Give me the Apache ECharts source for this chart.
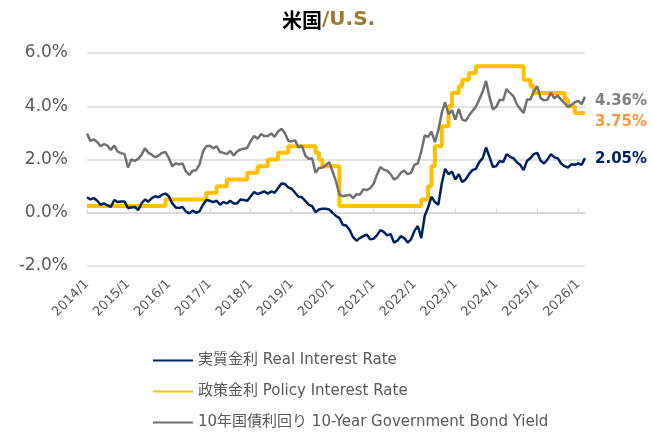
<!DOCTYPE html>
<html>
<head>
<meta charset="utf-8">
<script src="https://cdn.jsdelivr.net/npm/echarts@6/dist/echarts.min.js"></script>
<style>
  html, body { margin: 0; padding: 0; background: #fff; }
  #main { width: 652px; height: 440px; }
</style>
</head>
<body>
<div id="main"></div>
<script>
// 月次カテゴリ 2014/1 〜 2026/3
var startYear = 2014;
var monthCount = 147;
var months = [];
for (var i = 0; i < monthCount; i++) {
    months.push((startYear + Math.floor(i / 12)) + '/' + (i % 12 + 1));
}

var yTicks = [-2, 0, 2, 4, 6];

// 実質金利 (%)
var realRate = [
    0.58, 0.50, 0.55, 0.45, 0.30, 0.35, 0.28, 0.22, 0.48, 0.40, 0.42, 0.42, // 2014
    0.18, 0.20, 0.22, 0.10, 0.35, 0.50, 0.42, 0.55, 0.62, 0.58, 0.68, 0.72, // 2015
    0.62, 0.35, 0.20, 0.18, 0.22, 0.05, -0.02, 0.08, 0.00, 0.05, 0.30, 0.48, // 2016
    0.45, 0.40, 0.45, 0.30, 0.40, 0.35, 0.45, 0.35, 0.35, 0.50, 0.48, 0.45, // 2017
    0.62, 0.78, 0.70, 0.75, 0.80, 0.72, 0.80, 0.75, 0.92, 1.10, 1.08, 0.95, // 2018
    0.90, 0.75, 0.60, 0.58, 0.45, 0.30, 0.25, 0.02, 0.12, 0.15, 0.15, 0.12, // 2019
    0.00, -0.12, -0.20, -0.45, -0.48, -0.65, -0.92, -1.05, -0.95, -0.88, -0.82, -1.00, // 2020
    -0.98, -0.85, -0.65, -0.72, -0.85, -0.80, -1.12, -1.05, -0.88, -0.95, -1.12, -1.00, // 2021
    -0.68, -0.50, -0.95, -0.12, 0.20, 0.60, 0.40, 0.30, 1.10, 1.65, 1.45, 1.55, // 2022
    1.25, 1.45, 1.15, 1.25, 1.45, 1.60, 1.65, 1.90, 2.05, 2.45, 2.10, 1.72, // 2023
    1.75, 1.95, 1.90, 2.20, 2.10, 2.05, 1.90, 1.80, 1.60, 1.95, 2.05, 2.20, // 2024
    2.25, 1.95, 1.85, 2.00, 2.20, 2.08, 2.05, 1.85, 1.75, 1.70, 1.82, 1.80, // 2025
    1.85, 1.80, 2.05                                                        // 2026
];

// 政策金利 (%)
var policyRate = [
    0.25, 0.25, 0.25, 0.25, 0.25, 0.25, 0.25, 0.25, 0.25, 0.25, 0.25, 0.25, // 2014
    0.25, 0.25, 0.25, 0.25, 0.25, 0.25, 0.25, 0.25, 0.25, 0.25, 0.25, 0.50, // 2015
    0.50, 0.50, 0.50, 0.50, 0.50, 0.50, 0.50, 0.50, 0.50, 0.50, 0.50, 0.75, // 2016
    0.75, 0.75, 1.00, 1.00, 1.00, 1.25, 1.25, 1.25, 1.25, 1.25, 1.25, 1.50, // 2017
    1.50, 1.50, 1.75, 1.75, 1.75, 2.00, 2.00, 2.00, 2.25, 2.25, 2.25, 2.50, // 2018
    2.50, 2.50, 2.50, 2.50, 2.50, 2.50, 2.50, 2.25, 2.00, 1.75, 1.75, 1.75, // 2019
    1.75, 1.75, 0.25, 0.25, 0.25, 0.25, 0.25, 0.25, 0.25, 0.25, 0.25, 0.25, // 2020
    0.25, 0.25, 0.25, 0.25, 0.25, 0.25, 0.25, 0.25, 0.25, 0.25, 0.25, 0.25, // 2021
    0.25, 0.25, 0.50, 0.50, 1.00, 1.75, 2.50, 2.50, 3.25, 3.25, 4.00, 4.50, // 2022
    4.50, 4.75, 5.00, 5.00, 5.25, 5.25, 5.50, 5.50, 5.50, 5.50, 5.50, 5.50, // 2023
    5.50, 5.50, 5.50, 5.50, 5.50, 5.50, 5.50, 5.50, 5.00, 5.00, 4.75, 4.50, // 2024
    4.50, 4.50, 4.50, 4.50, 4.50, 4.50, 4.50, 4.50, 4.25, 4.00, 4.00, 3.75, // 2025
    3.75, 3.75, 3.75                                                        // 2026
];

// 10年国債利回り (%)
var bondYield = [
    2.98, 2.70, 2.75, 2.66, 2.50, 2.58, 2.52, 2.36, 2.52, 2.30, 2.24, 2.20, // 2014
    1.70, 2.00, 1.95, 2.02, 2.18, 2.42, 2.25, 2.18, 2.08, 2.15, 2.25, 2.28, // 2015
    2.05, 1.75, 1.85, 1.82, 1.85, 1.55, 1.42, 1.58, 1.60, 1.82, 2.30, 2.50, // 2016
    2.52, 2.42, 2.50, 2.28, 2.25, 2.20, 2.32, 2.15, 2.30, 2.38, 2.40, 2.44, // 2017
    2.70, 2.88, 2.78, 2.95, 2.88, 2.88, 2.98, 2.85, 3.05, 3.15, 3.00, 2.70, // 2018
    2.68, 2.72, 2.45, 2.52, 2.15, 2.02, 2.05, 1.50, 1.68, 1.70, 1.78, 1.90, // 2019
    1.55, 1.18, 0.68, 0.62, 0.65, 0.68, 0.55, 0.70, 0.68, 0.88, 0.85, 0.92, // 2020
    1.08, 1.42, 1.72, 1.62, 1.58, 1.45, 1.25, 1.32, 1.50, 1.58, 1.45, 1.50, // 2021
    1.80, 1.85, 2.30, 2.90, 2.85, 3.05, 2.65, 3.10, 3.75, 4.15, 3.70, 3.85, // 2022
    3.50, 3.90, 3.50, 3.45, 3.65, 3.82, 3.98, 4.25, 4.55, 4.95, 4.35, 3.88, // 2023
    3.98, 4.25, 4.22, 4.65, 4.50, 4.38, 4.08, 3.90, 3.75, 4.25, 4.25, 4.55, // 2024
    4.75, 4.30, 4.22, 4.25, 4.50, 4.30, 4.40, 4.25, 4.12, 3.98, 4.05, 4.15, // 2025
    4.20, 4.08, 4.36                                                        // 2026
];

var FONT = 'DejaVu Sans, "Noto Sans CJK JP", sans-serif';

function endLabel(color, dy) {
    return {
        show: true,
        distance: 10,
        offset: [0, dy],
        color: color,
        fontFamily: FONT,
        fontSize: 15,
        fontWeight: 'bold',
        formatter: function (p) {
            return p.value.toFixed(2) + '%';
        }
    };
}

var myChart = echarts.init(document.getElementById('main'));

var option = {
    animation: false,
    backgroundColor: '#fff',
    title: {
        text: '{a|米国}{b|/U.S.}',
        left: 277,
        top: 5,
        textStyle: {
            rich: {
                a: { fontFamily: '"Noto Sans CJK JP", sans-serif', fontSize: 20, fontWeight: 'bold', color: '#000' },
                b: { fontFamily: FONT, fontSize: 20, fontWeight: 'bold', color: '#9C7A2C' }
            }
        }
    },
    legend: {
        orient: 'vertical',
        left: 147,
        top: 348,
        itemWidth: 40,
        itemHeight: 14,
        itemGap: 16,
        itemStyle: { opacity: 0 },
        textStyle: { fontFamily: FONT, fontSize: 15, color: '#595959' },
        data: ['実質金利 Real Interest Rate', '政策金利 Policy Interest Rate', '10年国債利回り 10-Year Government Bond Yield']
    },
    grid: { left: 87, right: 67, top: 53, bottom: 174 },
    xAxis: [
        {
            type: 'category',
            data: months,
            boundaryGap: false,
            axisLine: { onZero: true, lineStyle: { color: '#D9D9D9', width: 1.5 } },
            axisTick: { show: true, inside: true, length: 4, interval: 11, lineStyle: { color: '#D9D9D9' } },
            axisLabel: { show: false },
            splitLine: { show: false }
        },
        {
            type: 'category',
            data: months,
            boundaryGap: false,
            position: 'bottom',
            axisLine: { show: false, onZero: false },
            axisTick: { show: false },
            axisLabel: {
                interval: 11,
                rotate: 45,
                margin: 16,
                fontFamily: FONT,
                fontSize: 13,
                color: '#595959'
            },
            splitLine: { show: false }
        }
    ],
    yAxis: {
        type: 'value',
        min: yTicks[0],
        max: yTicks[yTicks.length - 1],
        interval: 2,
        axisLine: { show: false },
        axisTick: { show: false },
        axisLabel: {
            margin: 19,
            fontFamily: FONT,
            fontSize: 17,
            color: '#595959',
            formatter: function (v) { return v.toFixed(1) + '%'; }
        },
        splitLine: { lineStyle: { color: '#D9D9D9', width: 1.5 } }
    },
    series: [
        {
            name: '実質金利 Real Interest Rate',
            type: 'line',
            data: realRate,
            showSymbol: false,
            symbol: 'none',
            color: '#002060',
            lineStyle: { color: '#002060', width: 2.5 },
            endLabel: endLabel('#002060', 1),
            z: 3
        },
        {
            name: '政策金利 Policy Interest Rate',
            type: 'line',
            step: 'end',
            data: policyRate,
            showSymbol: false,
            symbol: 'none',
            color: '#FFC000',
            lineStyle: { color: '#FFC000', width: 4 },
            endLabel: endLabel('#F79646', 9),
            z: 2
        },
        {
            name: '10年国債利回り 10-Year Government Bond Yield',
            type: 'line',
            data: bondYield,
            showSymbol: false,
            symbol: 'none',
            color: '#717171',
            lineStyle: { color: '#717171', width: 2.5 },
            endLabel: endLabel('#7F7F7F', 4),
            z: 4
        }
    ]
};

myChart.setOption(option);
</script>
</body>
</html>
